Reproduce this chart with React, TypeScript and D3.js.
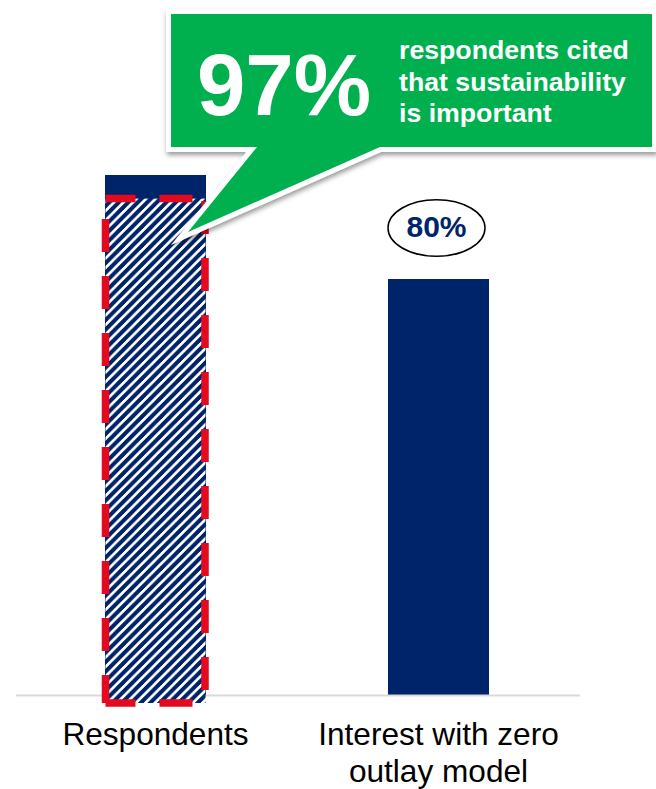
import React from "react";
import * as d3 from "d3";

const categories = ["Respondents", "Interest with zero\noutlay model"];
const barValues = [100, 80];
const highlightValue = 97; // share citing sustainability as important
const highlightIndex = 0;
const badgeIndex = 1;
const calloutNumber = "97%";
const calloutLines = ["respondents cited", "that sustainability", "is important"];

const W = 656;
const H = 789;
const NAVY = "#002469";
const GREEN = "#00b050";
const RED = "#e30a1f";
const FONT = "'Liberation Sans', Arial, sans-serif";

const P = 9.5; // hatch period
const SW = 3.8; // white stripe width (horizontal)

export default function App() {
  const x = d3
    .scaleBand<string>()
    .domain(categories)
    .range([14, 580])
    .paddingInner(0.643)
    .paddingOuter(0.3215);
  const y = d3.scaleLinear().domain([0, 100]).range([695, 175]);

  const bw = x.bandwidth();
  const hx = x(categories[highlightIndex])!;
  const bx = x(categories[badgeIndex])!;
  const shift = 8;
  const hTop = y(highlightValue) + shift;
  const hBottom = y(0) + shift;

  // callout geometry
  const cl = 171, cr = 652, ct = 14, cb = 147;
  const tailL = 257, tailR = 380, tipX = 188, tipY = 232;
  const calloutPath = `M${cl},${ct}L${cr},${ct}L${cr},${cb}L${tailR},${cb}L${tipX},${tipY}L${tailL},${cb}L${cl},${cb}Z`;

  const stripe = [-P, 0, P]
    .map((k) => `M${P + k},0L${P + SW + k},0L${SW + k},${P}L${k},${P}Z`)
    .join("");

  return (
    <svg
      width={W}
      height={H}
      style={{ position: "absolute", left: 0, top: 0, background: "#fff" }}
      fontFamily={FONT}
    >
      <defs>
        <pattern
          id="hatch"
          patternUnits="userSpaceOnUse"
          x={hx}
          y={0}
          width={P}
          height={P}
        >
          <rect width={P} height={P} fill={NAVY} />
          <path d={stripe} fill="#fff" shapeRendering="crispEdges" />
        </pattern>
        <filter id="shadow" x="-10%" y="-20%" width="130%" height="150%">
          <feDropShadow dx={1} dy={3} stdDeviation={2.5} floodColor="#000" floodOpacity={0.4} />
        </filter>
      </defs>

      {/* bars */}
      {categories.map((c, i) => (
        <rect
          key={c}
          x={x(c)!}
          y={y(barValues[i])}
          width={bw}
          height={y(0) - y(barValues[i])}
          fill={NAVY}
        />
      ))}

      {/* baseline */}
      <line x1={16} x2={580} y1={695.5} y2={695.5} stroke="#d9d9d9" strokeWidth={2} />

      {/* highlighted 97% portion */}
      <rect x={hx + 0.5} y={hTop} width={bw - 1} height={hBottom - hTop} fill="url(#hatch)" />
      {/* dashed red outline, drawn edge by edge */}
      <g stroke={RED} strokeWidth={7.5} fill="none" strokeDasharray="33 24">
        <line x1={hx + 0.5} x2={hx + bw - 1} y1={hTop} y2={hTop} strokeDashoffset={3} />
        <line x1={hx + 0.5} x2={hx + bw - 1} y1={hBottom} y2={hBottom} strokeDashoffset={3} />
        <line x1={hx + 0.5} x2={hx + 0.5} y1={hBottom} y2={hTop} strokeDashoffset={5} />
        <line x1={hx + bw - 1} x2={hx + bw - 1} y1={hBottom} y2={hTop} strokeDashoffset={-13} />
      </g>

      {/* 80% badge */}
      <ellipse
        cx={bx + bw / 2 - 2}
        cy={y(barValues[badgeIndex]) - 51}
        rx={48.5}
        ry={28.3}
        fill="#fff"
        stroke="#000"
        strokeWidth={1.5}
      />
      <text
        x={bx + bw / 2 - 2}
        y={y(barValues[badgeIndex]) - 42}
        textAnchor="middle"
        fontWeight="bold"
        fontSize={30}
        fill={NAVY}
      >
        {`${barValues[badgeIndex]}%`}
      </text>

      {/* category labels */}
      {categories.map((c) => (
        <text
          key={c}
          x={x(c)! + bw / 2}
          y={745}
          textAnchor="middle"
          fontSize={31.6}
          fill="#000"
        >
          {c.split("\n").map((line, j) => (
            <tspan key={j} x={x(c)! + bw / 2} dy={j === 0 ? 0 : 37}>
              {line}
            </tspan>
          ))}
        </text>
      ))}

      {/* callout */}
      <g filter="url(#shadow)">
        <path
          d={calloutPath}
          fill={GREEN}
          stroke="#fff"
          strokeWidth={10}
          strokeLinejoin="miter"
          strokeMiterlimit={10}
          paintOrder="stroke"
        />
      </g>
      <text x={284} y={115} textAnchor="middle" fontWeight="bold" fontSize={87} fill="#fff">
        {calloutNumber}
      </text>
      <text fontWeight="bold" fontSize={26.7} fill="#fff">
        {calloutLines.map((l, i) => (
          <tspan key={i} x={399} y={59 + i * 31.5}>
            {l}
          </tspan>
        ))}
      </text>
    </svg>
  );
}
